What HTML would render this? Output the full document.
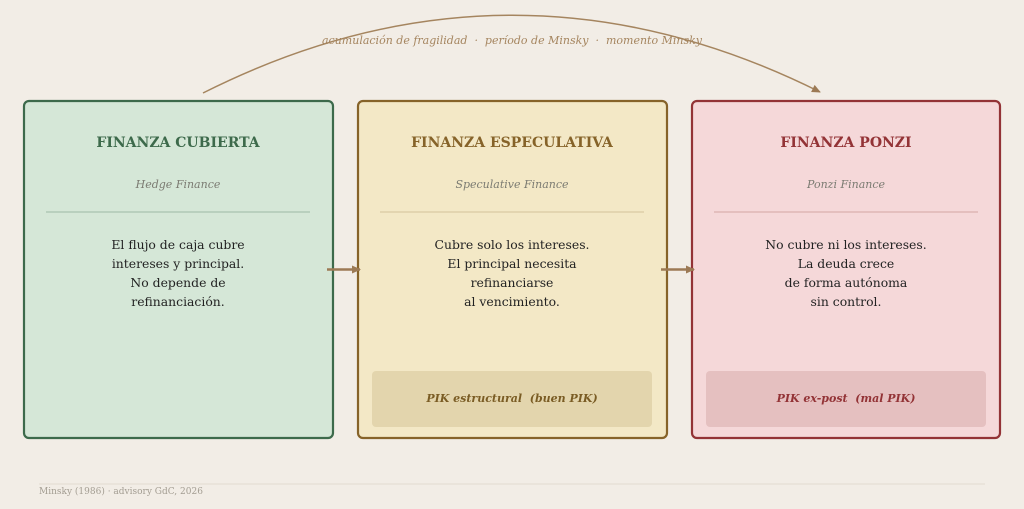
<!DOCTYPE html>
<html><head><meta charset="utf-8"><style>
html,body{margin:0;padding:0;background:#f2ede6;}
svg{display:block;font-family:"DejaVu Serif","Liberation Serif",serif;}
text{white-space:pre;}
</style></head><body>
<svg width="1024" height="509" viewBox="0 0 1024 509" xmlns="http://www.w3.org/2000/svg">
<defs>
<marker id="ah" markerWidth="10" markerHeight="10" refX="8" refY="5" orient="auto" markerUnits="userSpaceOnUse">
<path d="M0,1 L9,5 L0,9 Z" fill="#9c7a55"/></marker>
</defs>
<rect width="1024" height="509" fill="#f2ede6"/>
<path d="M203,93 Q511,-62 820,92" fill="none" stroke="#a5855f" stroke-width="1.5" marker-end="url(#ah)"/>
<text x="512" y="44" text-anchor="middle" font-size="11" font-style="italic" fill="#a5855f" xml:space="preserve">acumulación de fragilidad  ·  período de Minsky  ·  momento Minsky</text>

<rect x="24" y="101" width="309" height="337" rx="5" fill="#d5e7d7" stroke="#3d6a4b" stroke-width="2.2"/>
<text x="178" y="147" text-anchor="middle" font-size="14" font-weight="bold" fill="#3d6a4b">FINANZA CUBIERTA</text>
<text x="178" y="188" text-anchor="middle" font-size="11" font-style="italic" fill="#7b7b72">Hedge Finance</text>
<line x1="46" y1="212" x2="310" y2="212" stroke="#a9c2ae" stroke-width="1.2"/>
<g font-size="12.4" fill="#222" text-anchor="middle">
<text x="178" y="249">El flujo de caja cubre</text>
<text x="178" y="268">intereses y principal.</text>
<text x="178" y="287">No depende de</text>
<text x="178" y="306">refinanciación.</text>
</g>

<rect x="358" y="101" width="309" height="337" rx="5" fill="#f3e8c6" stroke="#866329" stroke-width="2.2"/>
<text x="512" y="147" text-anchor="middle" font-size="14" font-weight="bold" fill="#866329">FINANZA ESPECULATIVA</text>
<text x="512" y="188" text-anchor="middle" font-size="11" font-style="italic" fill="#7b7b72">Speculative Finance</text>
<line x1="380" y1="212" x2="644" y2="212" stroke="#d9c9a2" stroke-width="1.2"/>
<g font-size="12.4" fill="#222" text-anchor="middle">
<text x="512" y="249">Cubre solo los intereses.</text>
<text x="512" y="268">El principal necesita</text>
<text x="512" y="287">refinanciarse</text>
<text x="512" y="306">al vencimiento.</text>
</g>
<rect x="372" y="371" width="280" height="56" rx="4" fill="#e3d5ad"/>
<text x="512" y="402" text-anchor="middle" font-size="11" font-weight="bold" font-style="italic" fill="#7a5c24" xml:space="preserve">PIK estructural  (buen PIK)</text>

<rect x="692" y="101" width="308" height="337" rx="5" fill="#f5d8d9" stroke="#933336" stroke-width="2.2"/>
<text x="846" y="147" text-anchor="middle" font-size="14" font-weight="bold" fill="#933336">FINANZA PONZI</text>
<text x="846" y="188" text-anchor="middle" font-size="11" font-style="italic" fill="#7b7b72">Ponzi Finance</text>
<line x1="714" y1="212" x2="978" y2="212" stroke="#dbb0ae" stroke-width="1.2"/>
<g font-size="12.4" fill="#222" text-anchor="middle">
<text x="846" y="249">No cubre ni los intereses.</text>
<text x="846" y="268">La deuda crece</text>
<text x="846" y="287">de forma autónoma</text>
<text x="846" y="306">sin control.</text>
</g>
<rect x="706" y="371" width="280" height="56" rx="4" fill="#e5c0c0"/>
<text x="846" y="402" text-anchor="middle" font-size="11" font-weight="bold" font-style="italic" fill="#933336" xml:space="preserve">PIK ex-post  (mal PIK)</text>

<line x1="327" y1="269.5" x2="360" y2="269.5" stroke="#9c7a55" stroke-width="2.5" marker-end="url(#ah)"/>
<line x1="661" y1="269.5" x2="694" y2="269.5" stroke="#9c7a55" stroke-width="2.5" marker-end="url(#ah)"/>

<line x1="39" y1="484" x2="985" y2="484" stroke="#e3dbd0" stroke-width="1"/>
<text x="39" y="494" font-size="9" fill="#a39d92">Minsky (1986) · advisory GdC, 2026</text>
</svg>
</body></html>
